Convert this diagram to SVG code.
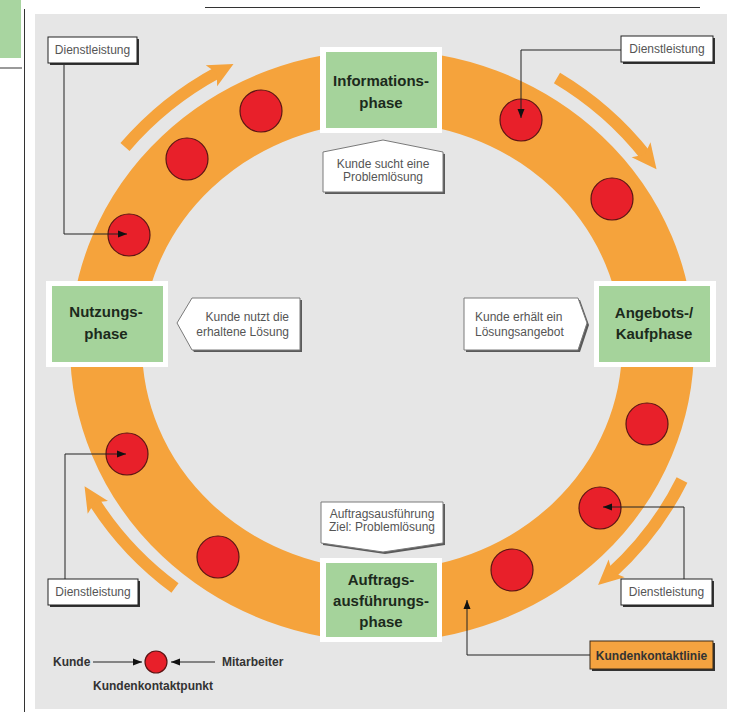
<svg xmlns="http://www.w3.org/2000/svg" width="735" height="714" viewBox="0 0 735 714">
<style>
.ring{fill:none;stroke:#f5a33c;stroke-width:72}
.flow{fill:none;stroke:#f5a33c;stroke-width:12;marker-end:url(#oa)}
.kp{fill:#e8202a;stroke:#5c1414;stroke-width:1.2}
.pw{fill:#fff}
.pg{fill:#a5d39b}
.pt{font-family:"Liberation Sans",Arial,sans-serif;font-weight:bold;font-size:15px;fill:#1c2a1c;text-anchor:middle}
.co{fill:#fff;stroke:#7a7a7a;stroke-width:1}
.cs{fill:#5a5a5a}
.ct{font-family:"Liberation Sans",Arial,sans-serif;font-size:12px;fill:#555}
.db{fill:#fff;stroke:#222;stroke-width:1}
.ds{fill:#333}
.dt{font-family:"Liberation Sans",Arial,sans-serif;font-size:12px;fill:#555;text-anchor:middle}
.cn{fill:none;stroke:#222;stroke-width:1;marker-end:url(#ba)}
.lt{font-family:"Liberation Sans",Arial,sans-serif;font-weight:bold;font-size:12px;fill:#333}
</style>
<defs>
<marker id="oa" markerUnits="userSpaceOnUse" markerWidth="26" markerHeight="26" refX="8" refY="13" orient="auto" viewBox="0 0 26 26"><path d="M0,1 L25,13 L0,25 L6,13 z" fill="#f5a33c"/></marker>
<marker id="ba" markerUnits="userSpaceOnUse" markerWidth="10" markerHeight="8" refX="9" refY="4" orient="auto" viewBox="0 0 10 8"><path d="M0,0.5 L9,4 L0,7.5 z" fill="#111"/></marker>
</defs>

<!-- page frame -->
<rect x="0" y="0" width="735" height="714" fill="#fff"/>
<rect x="0" y="0" width="21" height="58" fill="#a8d5a0"/>
<line x1="0" y1="68" x2="22" y2="68" stroke="#9a9a9a" stroke-width="2"/>
<line x1="24.5" y1="9" x2="24.5" y2="712" stroke="#333" stroke-width="1"/>
<line x1="205" y1="7.5" x2="700" y2="7.5" stroke="#333" stroke-width="1"/>
<rect x="35" y="14" width="692" height="695" fill="#e6e6e6"/>

<!-- ring and flow arrows -->
<ellipse class="ring" cx="382" cy="346" rx="276" ry="260"/>
<g id="flows">
<path class="flow" d="M125,147 A331,315 0 0 1 218.5,72"/>
<path class="flow" d="M557,78 A331,315 0 0 1 646,156"/>
<path class="flow" d="M682,480 A331,315 0 0 1 610.7,573.7"/>
<path class="flow" d="M175,588 A331,315 0 0 1 93.6,500.7"/>
</g>

<!-- contact points -->
<g id="kontaktpunkte">
<circle class="kp" cx="261" cy="111" r="21"/>
<circle class="kp" cx="187" cy="159" r="21"/>
<circle class="kp" cx="129" cy="235" r="21"/>
<circle class="kp" cx="127" cy="454" r="21"/>
<circle class="kp" cx="218" cy="557" r="21"/>
<circle class="kp" cx="512" cy="570" r="21"/>
<circle class="kp" cx="600" cy="508" r="21"/>
<circle class="kp" cx="647" cy="424" r="21"/>
<circle class="kp" cx="612" cy="199" r="21"/>
<circle class="kp" cx="521" cy="120" r="21"/>
</g>

<!-- connectors -->
<g id="connectors">
<path class="cn" d="M64,63 V234 H127"/>
<path class="cn" d="M621,50 H521 V118"/>
<path class="cn" d="M65,579 V454 H126"/>
<path class="cn" d="M684,579 V507 H603"/>
<path class="cn" d="M590,655 H467 V600"/>
<path class="cn" d="M93,662 H142"/>
<path class="cn" d="M215,662 H171"/>
</g>

<!-- phases -->
<g id="informationsphase">
<rect class="pw" x="320" y="47" width="122" height="86"/>
<rect class="pg" x="326" y="52" width="111" height="76"/>
<text class="pt" x="381" y="85.5">Informations-</text>
<text class="pt" x="381" y="107.5">phase</text>
</g>
<g id="nutzungsphase">
<rect class="pw" x="46" y="281" width="122" height="86"/>
<rect class="pg" x="52" y="286" width="111" height="76"/>
<text class="pt" x="106" y="317">Nutzungs-</text>
<text class="pt" x="106" y="339">phase</text>
</g>
<g id="angebotsphase">
<rect class="pw" x="594" y="281" width="122" height="86"/>
<rect class="pg" x="599" y="286" width="111" height="76"/>
<text class="pt" x="654" y="318">Angebots-/</text>
<text class="pt" x="654" y="339">Kaufphase</text>
</g>
<g id="auftragsphase">
<rect class="pw" x="320" y="558" width="122" height="84"/>
<rect class="pg" x="326" y="563" width="111" height="74"/>
<text class="pt" x="381" y="585">Auftrags-</text>
<text class="pt" x="381" y="606">ausführungs-</text>
<text class="pt" x="381" y="627">phase</text>
</g>

<!-- callouts -->
<g id="callout-info">
<polygon class="cs" points="325,154 385,142 445,154 445,194 325,194"/>
<polygon class="co" points="323,152 383,140 443,152 443,192 323,192"/>
<text class="ct" x="383" y="168" text-anchor="middle">Kunde sucht eine</text>
<text class="ct" x="383" y="181" text-anchor="middle">Problemlösung</text>
</g>
<g id="callout-nutzung">
<polygon class="cs" points="179,325 194,300 302,300 302,352 194,352"/>
<polygon class="co" points="177,323 192,298 300,298 300,350 192,350"/>
<text class="ct" x="289" y="321" text-anchor="end">Kunde nutzt die</text>
<text class="ct" x="289" y="336" text-anchor="end">erhaltene Lösung</text>
</g>
<g id="callout-angebot">
<polygon class="cs" points="466,300 580,300 589,325 580,352 466,352"/>
<polygon class="co" points="464,298 578,298 587,323 578,350 464,350"/>
<text class="ct" x="475" y="321">Kunde erhält ein</text>
<text class="ct" x="475" y="336">Lösungsangebot</text>
</g>
<g id="callout-auftrag">
<polygon class="cs" points="323,504 445,504 445,545 385,554 323,545"/>
<polygon class="co" points="321,502 443,502 443,543 383,552 321,543"/>
<text class="ct" x="382" y="518" text-anchor="middle">Auftragsausführung</text>
<text class="ct" x="382" y="531" text-anchor="middle">Ziel: Problemlösung</text>
</g>

<!-- Dienstleistung boxes -->
<g id="dl-tl">
<rect class="ds" x="50" y="39" width="89" height="26"/>
<rect class="db" x="48" y="37" width="89" height="26"/>
<text class="dt" x="92.5" y="54">Dienstleistung</text>
</g>
<g id="dl-tr">
<rect class="ds" x="623" y="38" width="92" height="26"/>
<rect class="db" x="621" y="36" width="92" height="26"/>
<text class="dt" x="667" y="53">Dienstleistung</text>
</g>
<g id="dl-bl">
<rect class="ds" x="50" y="581" width="90" height="26"/>
<rect class="db" x="48" y="579" width="90" height="26"/>
<text class="dt" x="93" y="596">Dienstleistung</text>
</g>
<g id="dl-br">
<rect class="ds" x="623" y="581" width="91" height="26"/>
<rect class="db" x="621" y="579" width="91" height="26"/>
<text class="dt" x="666.5" y="596">Dienstleistung</text>
</g>

<!-- Kundenkontaktlinie -->
<g id="kundenkontaktlinie">
<rect x="592" y="643" width="123" height="28" fill="#333"/>
<rect x="590" y="641" width="123" height="28" fill="#f4a340" stroke="#3a2a18" stroke-width="1"/>
<text class="lt" x="651.5" y="659.5" text-anchor="middle" fill="#2a1a0a">Kundenkontaktlinie</text>
</g>

<!-- legend -->
<g id="legende">
<text class="lt" x="53" y="666">Kunde</text>
<circle class="kp" cx="156" cy="662" r="11"/>
<text class="lt" x="222" y="666">Mitarbeiter</text>
<text class="lt" x="93" y="690">Kundenkontaktpunkt</text>
</g>
</svg>
